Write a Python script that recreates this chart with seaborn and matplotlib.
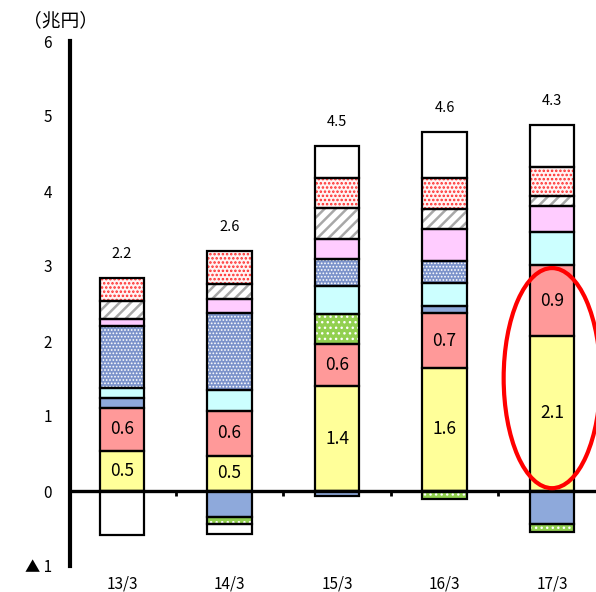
import numpy as np
import pandas as pd
import matplotlib
matplotlib.use("Agg")
import matplotlib.pyplot as plt
from matplotlib.patches import Ellipse
import seaborn as sns

# ---- data (兆円) ----
categories = ["13/3", "14/3", "15/3", "16/3", "17/3"]

# components, stacked in this order (positive values go up, negative go down)
yellow = [0.54, 0.47, 1.40, 1.64, 2.07]
salmon = [0.57, 0.60, 0.56, 0.73, 0.94]
blue = [0.13, -0.34, -0.07, 0.10, -0.44]
green = [0.00, -0.10, 0.40, -0.10, -0.11]
cyan = [0.14, 0.28, 0.37, 0.30, 0.44]
checked = [0.82, 1.03, 0.36, 0.30, 0.00]
pink = [0.10, 0.18, 0.27, 0.42, 0.35]
gray = [0.24, 0.20, 0.41, 0.27, 0.13]
red_dot = [0.30, 0.44, 0.40, 0.41, 0.39]
white = [-0.58, -0.13, 0.43, 0.62, 0.56]

net_totals = [2.2, 2.6, 4.5, 4.6, 4.3]

y_tick_values = [-1, 0, 1, 2, 3, 4, 5, 6]
y_tick_labels = ["▲ 1", "0", "1", "2", "3", "4", "5", "6"]

# ---- styling ----
sns.set_theme(style="white")
plt.rcParams["font.family"] = ["Noto Sans CJK JP", "DejaVu Sans"]
plt.rcParams["hatch.linewidth"] = 1.0

BAR_W = 0.41
layers = [
    # values, face colour, hatch, hatch colour, hatch linewidth, labelled
    (yellow, "#FFFF99", None, None, 1.0, True),
    (salmon, "#FF9999", None, None, 1.0, True),
    (blue, "#8EA9DB", None, None, 1.0, False),
    (green, "#92D050", "...", "#FFFFFF", 1.0, False),
    (cyan, "#CCFFFF", None, None, 1.0, False),
    (checked, "#7C93CA", ".....", "#FFFFFF", 0.8, False),
    (pink, "#FFCCFF", None, None, 1.0, False),
    (gray, "#FFFFFF", "///", "#A8A8A8", 1.8, False),
    (red_dot, "#FFF4F4", "....", "#FF2B2B", 1.2, False),
    (white, "#FFFFFF", None, None, 1.0, False),
]

fig = plt.figure(figsize=(5.96, 5.92), dpi=100)
ax = fig.add_axes([70 / 596, 26 / 592, 526 / 596, 525 / 592])

n = len(categories)
pos_base = np.zeros(n)
neg_base = np.zeros(n)


def draw_layer(values, bottoms, face, hatch, hatch_color, hatch_lw):
    vals = np.asarray(values, dtype=float)
    keep = vals != 0
    df = pd.DataFrame({"cat": np.array(categories)[keep], "val": vals[keep]})
    kw = dict(data=df, x="cat", y="val", order=categories, width=BAR_W,
              saturation=1, errorbar=None, bottom=bottoms[keep], ax=ax)
    start = len(ax.patches)
    with plt.rc_context({"hatch.linewidth": hatch_lw}):
        sns.barplot(color=face, facecolor=face,
                    edgecolor=hatch_color if hatch else face,
                    linewidth=0, hatch=hatch, zorder=2, **kw)
    for p in ax.patches[start:]:
        if hasattr(p, "set_hatch_linewidth"):
            p.set_hatch_linewidth(hatch_lw)
    sns.barplot(color=face, facecolor="none", edgecolor="black",
                linewidth=1.6, zorder=3, **kw)


for values, face, hatch, hcol, hlw, labelled in layers:
    vals = np.asarray(values, dtype=float)
    bottoms = np.where(vals >= 0, pos_base, neg_base)
    draw_layer(vals, bottoms, face, hatch, hcol, hlw)
    if labelled:
        for i, v in enumerate(vals):
            ax.text(i, bottoms[i] + v / 2, f"{v:.1f}", ha="center", va="center",
                    fontsize=12.5, color="black", zorder=5)
    pos_base = pos_base + np.where(vals > 0, vals, 0)
    neg_base = neg_base + np.where(vals < 0, vals, 0)

# net totals above each column
for i, t in enumerate(net_totals):
    ax.annotate(f"{t:.1f}", xy=(i, pos_base[i]), xytext=(0, 17),
                textcoords="offset points", ha="center", va="center",
                fontsize=10.5, color="black")

# zero line with category separators
ax.axhline(0, color="black", lw=2.4, zorder=4)
ax.vlines(np.arange(n - 1) + 0.5, -0.06, 0, color="black", lw=2, zorder=4)

# highlight on the latest column's two main components
last = n - 1
span = yellow[last] + salmon[last]
ax.add_patch(Ellipse((last, span / 2), width=0.9, height=span * 0.975,
                     fill=False, edgecolor="#FF0000", lw=3, zorder=6,
                     clip_on=False))

ax.set_xlim(-0.484, n - 1 + 0.409)
ax.set_ylim(-1, 6)
ax.set_yticks(y_tick_values, labels=y_tick_labels)
ax.set_xlabel("")
ax.set_ylabel("")
ax.grid(False)

for side in ["top", "right", "bottom"]:
    ax.spines[side].set_visible(False)
ax.spines["left"].set_linewidth(3)
ax.spines["left"].set_color("black")

ax.tick_params(axis="y", direction="in", length=4, width=2, pad=13,
               labelsize=11, colors="black")
ax.tick_params(axis="x", length=0, pad=7, labelsize=11, colors="black")

fig.text(61 / 596, 1 - 21 / 592, "（兆円）", ha="center", va="center",
         fontsize=13.5, color="black")

fig.savefig("out.png", dpi=100)
